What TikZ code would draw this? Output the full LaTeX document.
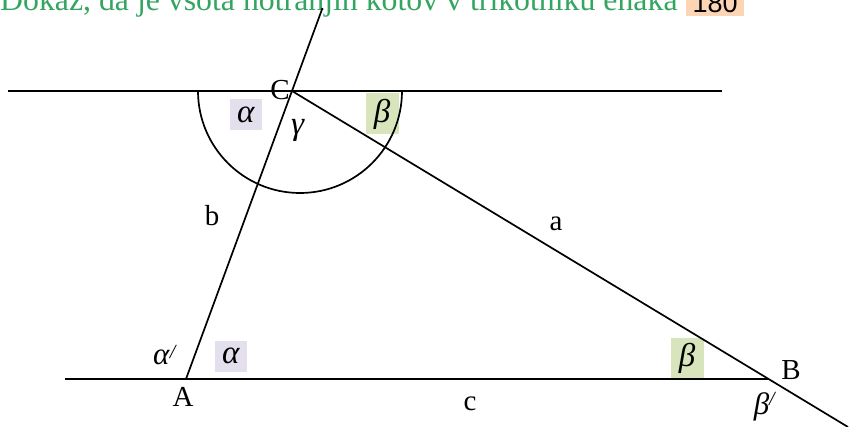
\documentclass[tikz,border=0pt]{standalone}
\usepackage{fontspec}
\setmainfont{Liberation Serif}
\newfontfamily\sansf{Liberation Sans}
\definecolor{titlegreen}{RGB}{52,165,96}
\definecolor{peach}{RGB}{252,213,180}
\definecolor{lav}{RGB}{228,223,236}
\definecolor{sage}{RGB}{216,228,188}
\newcommand{\galpha}{\textit{α}}
\newcommand{\gbeta}{\textit{β}}
\newcommand{\ggamma}{\textit{γ}}
\begin{document}
\begin{tikzpicture}[x=1pt,y=-1pt,
  thick line/.style={line width=2.8pt},
  thin line/.style={line width=1.7pt},
  lbl/.style={font=\fontsize{29}{31}\selectfont, inner sep=0pt},
  abox/.style={fill=lav, minimum width=32pt, minimum height=31pt, inner sep=0pt, font=\fontsize{33}{34}\selectfont},
  bbox/.style={fill=sage, minimum width=33pt, minimum height=41pt, inner sep=0pt, font=\fontsize{33}{34}\selectfont}]
\useasboundingbox (0,0) rectangle (853,427);
% title
\node[anchor=base west, inner sep=0pt, text=titlegreen, font=\fontsize{31.8}{33}\selectfont] (title) at (0,11) {Dokaz, da je vsota notranjih kotov v trikotniku enaka};
\node[anchor=south west, fill=peach, inner sep=0pt, minimum width=58pt, minimum height=26pt] (deg) at (686,16) {};
\node[anchor=base, inner sep=0pt, font=\sansf\fontsize{27}{28}\selectfont] (degt) at (deg.center |- 0,13) {180};
% points
\coordinate (C) at (292,91);
\coordinate (A) at (186,379);
\coordinate (B) at (769,379);
\coordinate (T) at (322.5,8);
\coordinate (E) at (848,427);
\coordinate (L1) at (8,91);
\coordinate (R1) at (722,91);
\coordinate (L2) at (65,379);
% labels under the lines
\node[lbl] (lC) at (280,90) {C};
\node[abox] (a1) at (246,115) {\galpha};
\node[bbox] (b1) at (382,114) {\gbeta};
\node[lbl, font=\fontsize{33}{34}\selectfont] (g) at (298,130) {\ggamma};
\node[lbl] (lb) at (212,216) {b};
\node[lbl] (la) at (556,224) {a};
\node[lbl, font=\fontsize{31}{32}\selectfont] (ap) at (165,355) {\galpha\raisebox{6pt}{\fontsize{20}{20}\selectfont\textit{/}}};
\node[abox] (a2) at (231,356) {\galpha};
\node[bbox] (b2) at (687,358) {\gbeta};
\node[lbl] (lA) at (183,397) {A};
\node[lbl] (lB) at (791,370) {B};
\node[lbl] (lc) at (470,404) {c};
\node[lbl, font=\fontsize{31}{32}\selectfont] (bp) at (765,407) {\gbeta\raisebox{9pt}{\fontsize{20}{20}\selectfont\textit{/}}};
% lines
\draw[thick line] (L1) -- (R1);
\draw[thick line] (L2) -- (B);
\draw[thin line] (A) -- (T);
\draw[thin line] (C) -- (E);
\draw[thin line] (198,91) arc[start angle=180, end angle=0, radius=102];
\end{tikzpicture}
\end{document}
